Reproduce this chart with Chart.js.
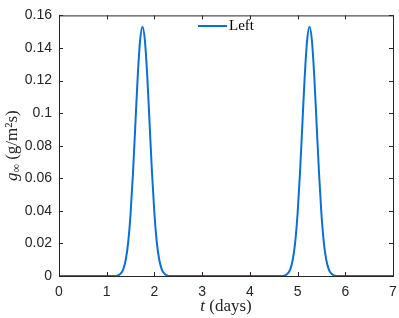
<!DOCTYPE html>
<html>
<head>
<meta charset="utf-8">
<script src="https://cdn.jsdelivr.net/npm/chart.js@4/dist/chart.umd.min.js"></script>
<style>
  html, body { margin: 0; padding: 0; background: #fff; }
  #wrap { width: 399px; height: 318px; }
</style>
</head>
<body>
<div id="wrap"><canvas id="myChart" width="399" height="318"></canvas></div>
<script>
// time in days
const days = [0, 1.0, 1.2, 1.25, 1.3, 1.35, 1.4, 1.45, 1.5, 1.55, 1.6, 1.65, 1.7, 1.75,
  1.8, 1.85, 1.9, 1.95, 2.0, 2.05, 2.1, 2.15, 2.2, 2.25, 2.3, 3.0, 4.0, 4.5, 4.7,
  4.75, 4.8, 4.85, 4.9, 4.95, 5.0, 5.05, 5.1, 5.15, 5.2, 5.25, 5.3, 5.35, 5.4, 5.45,
  5.5, 5.55, 5.6, 5.65, 5.7, 5.75, 5.8, 6.0, 7.0];
// g_inf (g/m^2 s)
const leftFlux = [0, 0, 0, 0.0006, 0.0017, 0.0044, 0.0101, 0.0207, 0.0382, 0.0629, 0.0928, 0.1226, 0.1447, 0.153,
  0.1447, 0.1226, 0.0928, 0.0629, 0.0382, 0.0207, 0.0101, 0.0044, 0.0017, 0.0006, 0, 0, 0, 0, 0,
  0.0006, 0.0017, 0.0044, 0.0101, 0.0207, 0.0382, 0.0629, 0.0928, 0.1226, 0.1447, 0.153, 0.1447, 0.1226, 0.0928, 0.0629,
  0.0382, 0.0207, 0.0101, 0.0044, 0.0017, 0.0006, 0, 0, 0];
const xTicks = [0, 1, 2, 3, 4, 5, 6, 7];
const yTicks = [0, 0.02, 0.04, 0.06, 0.08, 0.1, 0.12, 0.14, 0.16];
const seriesName = 'Left';

document.addEventListener('DOMContentLoaded', () => {
    const lineColor = '#0a6fd8';
    const serif = '"Liberation Serif", "DejaVu Serif", serif';

    // box, inward ticks, axis titles and legend
    const decor = {
        id: 'decor',
        afterDraw(chart) {
            const c = chart.ctx;
            const a = chart.chartArea;
            const xs = chart.scales.x, ys = chart.scales.y;
            c.save();
            c.strokeStyle = '#262626';
            c.lineWidth = 1;
            c.strokeRect(a.left + 0.5, a.top + 0.5, a.right - a.left, a.bottom - a.top);
            c.beginPath();
            xTicks.forEach(v => {
                const px = Math.round(xs.getPixelForValue(v)) + 0.5;
                c.moveTo(px, a.bottom); c.lineTo(px, a.bottom - 4);
                c.moveTo(px, a.top); c.lineTo(px, a.top + 4);
            });
            yTicks.forEach(v => {
                const py = Math.round(ys.getPixelForValue(v)) + 0.5;
                c.moveTo(a.left, py); c.lineTo(a.left + 4, py);
                c.moveTo(a.right, py); c.lineTo(a.right - 4, py);
            });
            c.stroke();

            // x title: t (days)
            c.fillStyle = '#262626';
            c.textBaseline = 'alphabetic';
            const cx = (a.left + a.right) / 2;
            c.font = 'italic 17px ' + serif;
            const tW = c.measureText('t').width;
            c.font = '17px ' + serif;
            const rW = c.measureText(' (days)').width;
            let x0 = cx - (tW + rW) / 2;
            c.textAlign = 'left';
            c.font = 'italic 17px ' + serif;
            c.fillText('t', x0, 311);
            c.font = '17px ' + serif;
            c.fillText(' (days)', x0 + tW, 311);

            // y title: g∞ (g/m²s)
            c.save();
            c.translate(17, (a.top + a.bottom) / 2);
            c.rotate(-Math.PI / 2);
            const parts = [
                ['italic 17px ' + serif, 'g'],
                ['12px ' + serif, '\u221E'],
                ['17px ' + serif, ' (g/m\u00B2s)']
            ];
            let total = 0;
            parts.forEach(p => { c.font = p[0]; total += c.measureText(p[1]).width; });
            let px = -total / 2;
            parts.forEach((p, i) => {
                c.font = p[0];
                c.fillText(p[1], px, i === 1 ? 3 : 0);
                px += c.measureText(p[1]).width;
            });
            c.restore();

            // legend
            c.strokeStyle = lineColor;
            c.lineWidth = 2;
            c.beginPath();
            c.moveTo(198, 26); c.lineTo(227, 26);
            c.stroke();
            c.fillStyle = '#000';
            c.font = '15px ' + serif;
            c.textBaseline = 'middle';
            c.fillText(seriesName, 229, 26);
            c.restore();
        }
    };

    const ctx = document.getElementById('myChart').getContext('2d');
    new Chart(ctx, {
        type: 'line',
        data: {
            datasets: [{
                label: seriesName,
                data: days.map((d, i) => ({ x: d, y: leftFlux[i] })),
                borderColor: lineColor,
                borderWidth: 2,
                pointRadius: 0,
                cubicInterpolationMode: 'monotone',
                fill: false
            }]
        },
        options: {
            responsive: false,
            animation: false,
            layout: { padding: { left: 0, right: 0, top: 8, bottom: 0 } },
            plugins: { legend: { display: false }, tooltip: { enabled: false } },
            scales: {
                x: {
                    type: 'linear',
                    min: 0, max: 7,
                    afterBuildTicks: s => { s.ticks = xTicks.map(v => ({ value: v })); },
                    afterFit: s => { s.height = 42; s.paddingRight = 6; s.paddingLeft = 0; },
                    grid: { display: false, drawTicks: false },
                    border: { display: false },
                    ticks: {
                        padding: 8,
                        color: '#262626',
                        font: { family: '"Liberation Sans", Arial, sans-serif', size: 14 },
                        callback: v => String(v)
                    }
                },
                y: {
                    type: 'linear',
                    min: 0, max: 0.16,
                    afterBuildTicks: s => { s.ticks = yTicks.map(v => ({ value: v })); },
                    afterFit: s => { s.width = 59; },
                    grid: { display: false, drawTicks: false },
                    border: { display: false },
                    ticks: {
                        padding: 7,
                        color: '#262626',
                        font: { family: '"Liberation Sans", Arial, sans-serif', size: 14 },
                        callback: v => String(Math.round(v * 100) / 100)
                    }
                }
            }
        },
        plugins: [decor]
    });
});
</script>
</body>
</html>
